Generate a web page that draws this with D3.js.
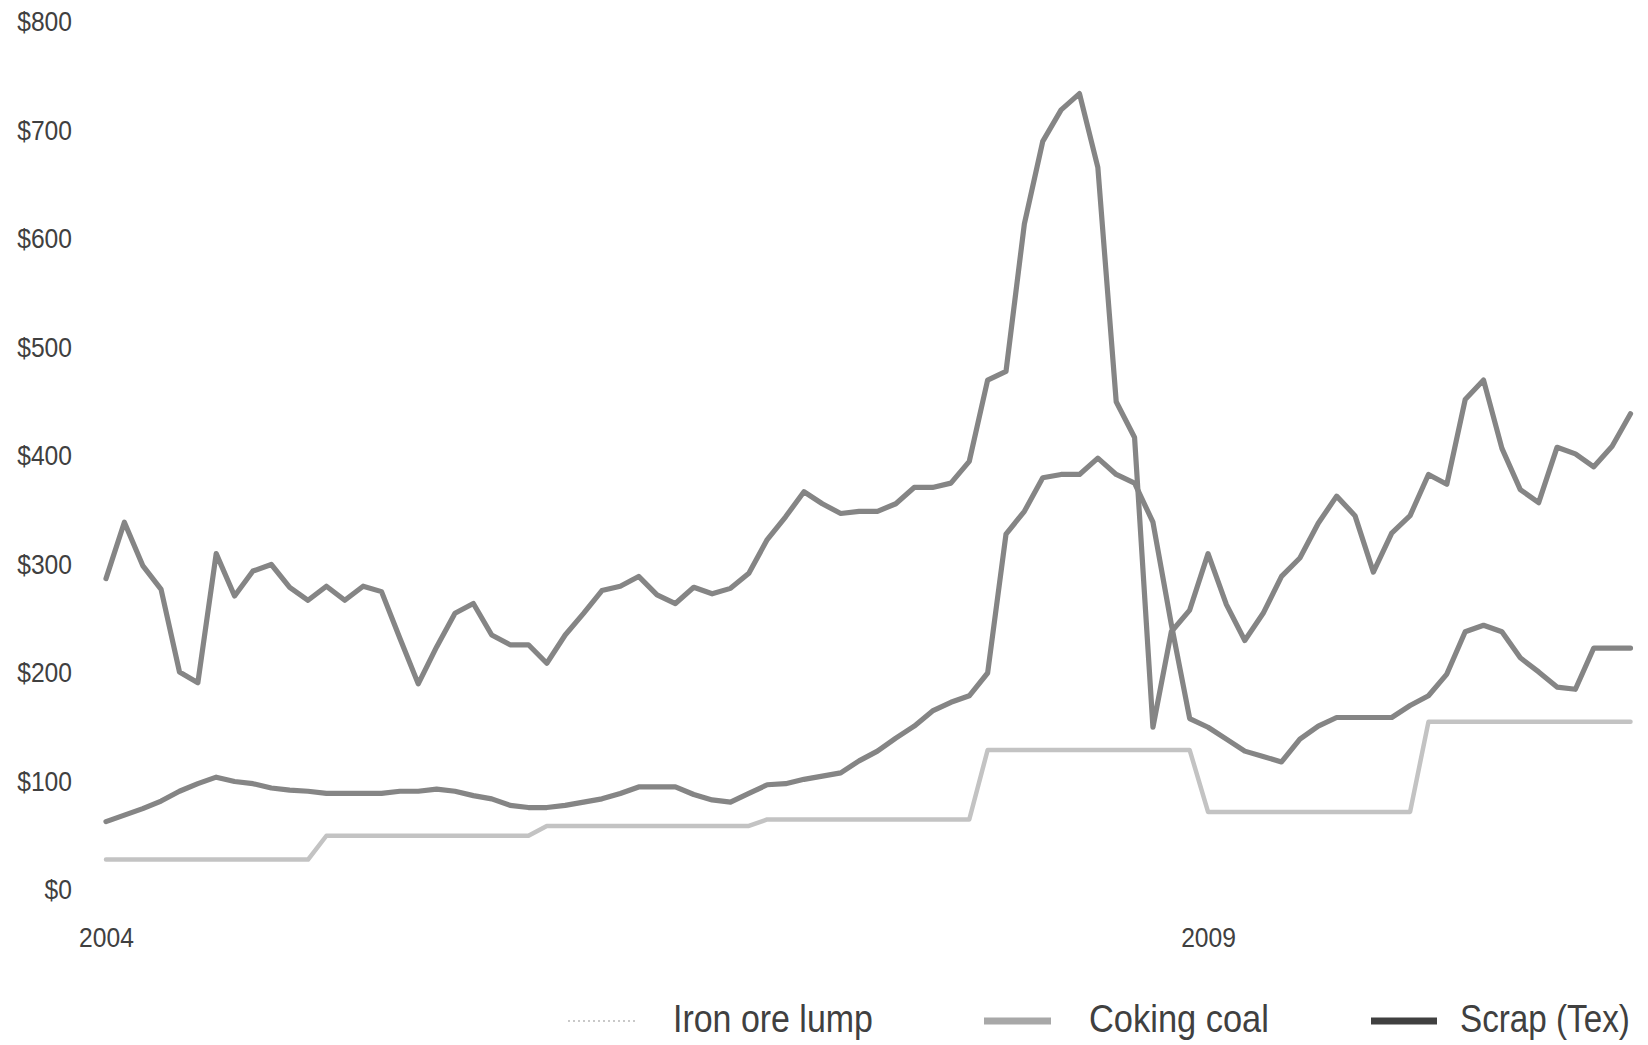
<!DOCTYPE html>
<html>
<head>
<meta charset="utf-8">
<script src="https://cdn.jsdelivr.net/npm/d3@7"></script>
<style>
  html, body { margin: 0; padding: 0; background: #fff; }
  svg { display: block; }
  text { font-family: "Liberation Sans Narrow", "Arial Narrow", "Liberation Sans", sans-serif; fill: #404040; }
</style>
</head>
<body>
<svg id="chart" width="1648" height="1045"></svg>
<script>
// monthly, Jan 2004 .. Dec 2010
const months = d3.timeMonth.range(new Date(2004, 0, 1), new Date(2011, 0, 1))

const yTicks = [0, 100, 200, 300, 400, 500, 600, 700, 800]
const xTickLabels = ["2004", "2009"]

const ironOre = [
  28, 28, 28, 28, 28, 28, 28, 28, 28, 28, 28, 28,
  50, 50, 50, 50, 50, 50, 50, 50, 50, 50, 50, 50,
  59, 59, 59, 59, 59, 59, 59, 59, 59, 59, 59, 59,
  65, 65, 65, 65, 65, 65, 65, 65, 65, 65, 65, 65,
  129, 129, 129, 129, 129, 129, 129, 129, 129, 129, 129, 129,
  72, 72, 72, 72, 72, 72, 72, 72, 72, 72, 72, 72,
  155, 155, 155, 155, 155, 155, 155, 155, 155, 155, 155, 155
]

const cokingCoal = [
  63, 69, 75, 82, 91, 98, 104, 100, 98, 94, 92, 91,
  89, 89, 89, 89, 91, 91, 93, 91, 87, 84, 78, 76,
  76, 78, 81, 84, 89, 95, 95, 95, 88, 83, 81, 89,
  97, 98, 102, 105, 108, 119, 128, 140, 151, 165, 173, 179,
  200, 328, 349, 380, 383, 383, 398, 383, 375, 339, 245, 158,
  150, 139, 128, 123, 118, 139, 151, 159, 159, 159, 159, 170,
  179, 199, 238, 244, 238, 214, 201, 187, 185, 223, 223, 223
]

const scrapTex = [
  287, 339, 299, 277, 201, 191, 310, 271, 294, 300, 279, 267,
  280, 267, 280, 275, 232, 190, 224, 255, 264, 235, 226, 226,
  209, 235, 255, 276, 280, 289, 272, 264, 279, 273, 278, 292,
  323, 344, 367, 356, 347, 349, 349, 356, 371, 371, 375, 395,
  470, 478, 614, 690, 719, 734, 666, 450, 417, 150, 238, 258,
  310, 263, 230, 255, 289, 306, 338, 363, 345, 293, 329, 345,
  383, 374, 452, 470, 407, 369, 357, 408, 402, 390, 409, 439
]

const seriesNames = ["Iron ore lump", "Coking coal", "Scrap (Tex)"]

const svg = d3.select("#chart")

const x = d3.scalePoint()
  .domain(d3.range(months.length))
  .range([106, 1630.5])

const y = d3.scaleLinear()
  .domain([0, 800])
  .range([890, 22])

// axis labels are set in a condensed face; squeeze them to the original width
const squeeze = function(sel) {
  sel.attr("font-size", 27)
    .attr("font-family", null)
    .attr("fill", "#404040")
    .attr("textLength", function() { return this.textContent.length * 13.7 })
    .attr("lengthAdjust", "spacingAndGlyphs")
}

// y axis labels, no line, no ticks
const yAxis = svg.append("g")
  .attr("transform", "translate(72,0)")
  .call(d3.axisLeft(y).tickValues(yTicks).tickSize(0).tickPadding(0)
    .tickFormat(d => "$" + d))
yAxis.select(".domain").remove()
yAxis.selectAll("text").call(squeeze)

// x axis: only year labels at Jan 2004 and Jan 2009
const xIdx = xTickLabels.map(l => months.findIndex(m => m.getFullYear() == +l && m.getMonth() == 0))
const xAxis = svg.append("g")
  .attr("transform", "translate(0,938)")
  .call(d3.axisBottom(x).tickValues(xIdx).tickSize(0).tickPadding(0)
    .tickFormat((d, i) => xTickLabels[i]))
xAxis.select(".domain").remove()
xAxis.selectAll("text").call(squeeze).attr("dy", "0.35em")

const line = d3.line()
  .x((d, i) => x(i))
  .y(d => y(d))

const lines = [
  { values: ironOre, color: "#c3c3c3", width: 4.5 },
  { values: cokingCoal, color: "#858585", width: 5.2 },
  { values: scrapTex, color: "#858585", width: 5.2 }
]

svg.append("g").selectAll("path")
  .data(lines)
  .enter()
  .append("path")
    .attr("d", d => line(d.values))
    .attr("fill", "none")
    .attr("stroke", d => d.color)
    .attr("stroke-width", d => d.width)
    .attr("stroke-linejoin", "round")
    .attr("stroke-linecap", "round")

// legend (symbols do not match the line colours in the original)
const legendItems = [
  { name: seriesNames[0], x1: 568, x2: 637, tx: 673, tw: 200, color: "#b8b8b8", width: 1.5, dash: "2,3" },
  { name: seriesNames[1], x1: 984, x2: 1051, tx: 1089, tw: 180, color: "#a8a8a8", width: 7, dash: null },
  { name: seriesNames[2], x1: 1371, x2: 1437, tx: 1460, tw: 170, color: "#404040", width: 7, dash: null }
]

const legend = svg.append("g")
legend.selectAll("line")
  .data(legendItems)
  .enter()
  .append("line")
    .attr("x1", d => d.x1)
    .attr("x2", d => d.x2)
    .attr("y1", 1021)
    .attr("y2", 1021)
    .attr("stroke", d => d.color)
    .attr("stroke-width", d => d.width)
    .attr("stroke-dasharray", d => d.dash)

// condensed look: scale each label horizontally to the measured width
legend.selectAll("text")
  .data(legendItems)
  .enter()
  .append("text")
    .attr("font-size", 38)
    .attr("fill", "#555")
    .text(d => d.name)
    .attr("transform", function(d) {
      const w = this.getComputedTextLength()
      return `translate(${d.tx},1032) scale(${d.tw / w},1)`
    })
</script>
</body>
</html>
